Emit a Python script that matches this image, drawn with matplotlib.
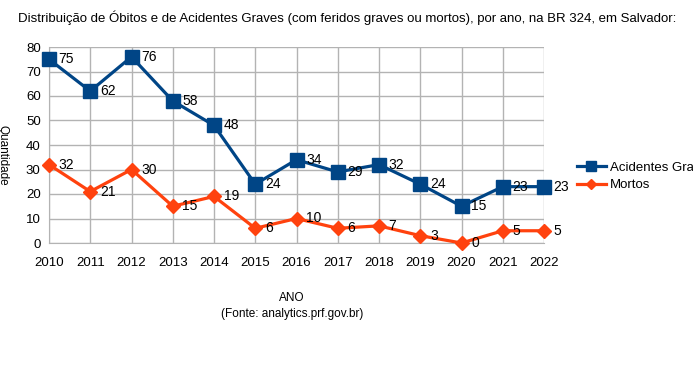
import matplotlib
matplotlib.use("Agg")
import matplotlib.pyplot as plt
from matplotlib.lines import Line2D

years = [2010, 2011, 2012, 2013, 2014, 2015, 2016, 2017, 2018, 2019, 2020, 2021, 2022]
acidentes = [75, 62, 76, 58, 48, 24, 34, 29, 32, 24, 15, 23, 23]
mortos = [32, 21, 30, 15, 19, 6, 10, 6, 7, 3, 0, 5, 5]
yticks = [0, 10, 20, 30, 40, 50, 60, 70, 80]

plt.rcParams['font.family'] = ['Liberation Sans', 'DejaVu Sans']

W, H = 693, 365
fig = plt.figure(figsize=(W / 100, H / 100), dpi=100)
fig.patch.set_facecolor('white')
ax = fig.add_axes([49 / W, 1 - 243 / H, (544 - 49) / W, (243 - 47) / H])

blue = '#004586'
orange = '#ff420e'

ax.plot(years, acidentes, color=blue, lw=2.3, marker='s', ms=10, zorder=3, clip_on=False)
ax.plot(years, mortos, color=orange, lw=2.3, marker='D', ms=7.5, zorder=3, clip_on=False)

for x, y in zip(years, acidentes):
    ax.annotate(str(y), (x, y), xytext=(7, 0), textcoords='offset points',
                va='center', ha='left', fontsize=10, zorder=4)
for x, y in zip(years, mortos):
    ax.annotate(str(y), (x, y), xytext=(7, 0), textcoords='offset points',
                va='center', ha='left', fontsize=10, zorder=4)

ax.set_xlim(2010, 2022)
ax.set_ylim(0, 80)
ax.set_xticks(years)
ax.set_yticks(yticks)
ax.tick_params(axis='both', labelsize=9.5, length=0)
ax.tick_params(axis='x', pad=10)
ax.tick_params(axis='y', pad=6)
ax.grid(True, color='#b3b3b3', lw=1)
ax.set_axisbelow(True)
for s in ['top', 'right']:
    ax.spines[s].set_visible(False)
ax.spines['left'].set_color('#b3b3b3')
ax.spines['bottom'].set_color('#b3b3b3')

fig.text(347 / W, 1 - 18 / H,
         'Distribuição de Óbitos e de Acidentes Graves (com feridos graves ou mortos), por ano, na BR 324, em Salvador:',
         ha='center', va='center', fontsize=9.5)
fig.text(292 / W, 1 - 298 / H, 'ANO', ha='center', va='center', fontsize=8.5)
fig.text(292 / W, 1 - 314 / H, '(Fonte: analytics.prf.gov.br)', ha='center', va='center', fontsize=8.5)
fig.text(2 / W, 1 - 155 / H, 'Quantidade', rotation=270, ha='center', va='center', fontsize=8.5)

handles = [Line2D([], [], color=blue, lw=2.3, marker='s', ms=7),
           Line2D([], [], color=orange, lw=2.3, marker='D', ms=5)]
fig.legend(handles, ['Acidentes Graves', 'Mortos'], loc='upper left',
           bbox_to_anchor=(570 / W, 1 - 155 / H), frameon=False, fontsize=9.5,
           handlelength=2.2, handletextpad=0.3, labelspacing=0.4, borderpad=0)

fig.savefig('out.png', dpi=100)
